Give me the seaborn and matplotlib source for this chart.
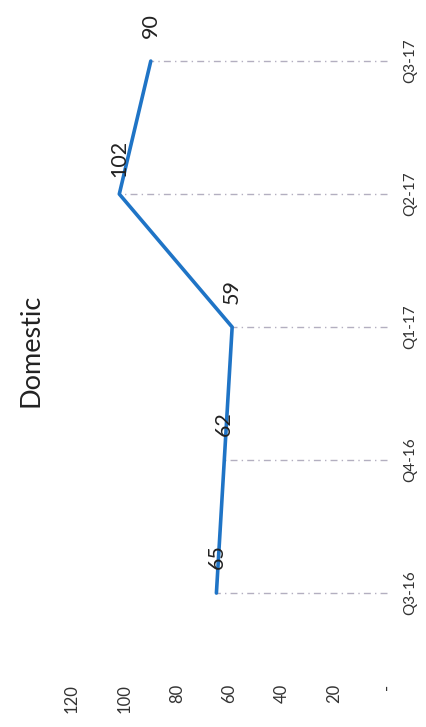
import pandas as pd
import matplotlib.pyplot as plt
import seaborn as sns

# Dati del grafico
trimestri = ["Q3-16", "Q4-16", "Q1-17", "Q2-17", "Q3-17"]
valori = [65, 62, 59, 102, 90]
tick_valori = [0, 20, 40, 60, 80, 100, 120]
etichette_tick = ["-", "20", "40", "60", "80", "100", "120"]

df = pd.DataFrame({"Trimestre": trimestri, "Valore": valori})
df["pos"] = range(len(df))

sns.set_style("white")
plt.rcParams["font.family"] = ["Lato", "DejaVu Sans"]

fig = plt.figure(figsize=(4.27, 7.27), dpi=100)
ax = fig.add_axes([0.1288, 0.0646, 0.7963, 0.9147])

# Il grafico è ruotato: trimestri dal basso verso l'alto, valori da destra a sinistra
ax.hlines(df["pos"], 0, df["Valore"], color="#b3afc0", linewidth=1,
          linestyle=(0, (5, 3, 1, 3)), zorder=1)
sns.lineplot(data=df, x="Valore", y="pos", orient="y", sort=False,
             color="#1f74c6", linewidth=2.6, ax=ax, zorder=2)

for _, r in df.iterrows():
    ax.annotate(str(r["Valore"]), (r["Valore"], r["pos"]), xytext=(0, 36),
                textcoords="offset pixels", rotation=90, ha="center",
                va="center", fontsize=15.5, color="#222222")

ax.set_xlim(126.5, -3.05)
ax.set_ylim(-0.654, 4.346)

ax.set_xticks(tick_valori)
ax.set_xticklabels(etichette_tick, rotation=90, fontsize=12, color="#333333")
ax.set_yticks(df["pos"])
ax.set_yticklabels(trimestri, rotation=90, va="center", fontsize=11,
                   color="#333333")
ax.yaxis.tick_right()
ax.tick_params(axis="x", length=0, pad=3)
ax.tick_params(axis="y", length=0, pad=6)
ax.set_xlabel("")
ax.set_ylabel("")
sns.despine(ax=ax, left=True, bottom=True, right=True, top=True)

fig.text(31 / 427, 1 - 350 / 727, "Domestic", rotation=90, ha="center",
         va="center", fontsize=19.5, color="#222222")

fig.savefig("out.png", dpi=100)
